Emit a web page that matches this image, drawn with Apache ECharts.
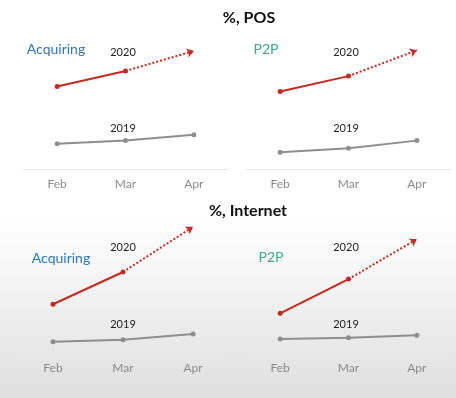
<!DOCTYPE html>
<html>
<head>
    <meta charset="utf-8">
    <title>%, POS / %, Internet</title>
    <script src="https://cdn.jsdelivr.net/npm/echarts@6/dist/echarts.min.js"></script>
    <style>
        * {
            margin: 0;
            padding: 0
        }

        html, body {
            width: 100%;
            height: 100%;
        }

        #main {
            width: 456px;
            height: 398px;
        }
    </style>
</head>
<body>
<div id="main"></div>
<script type="text/javascript">
    // 月份
    var months = ['Feb', 'Mar', 'Apr'];
    // POS（Apr 为预测值，用虚线箭头表示）
    var posAcq2020 = [64, 76, 91.5];
    var posAcq2019 = [19.5, 22, 26.5];
    var posP2p2020 = [60, 72, 92];
    var posP2p2019 = [13, 16, 22];
    // Internet
    var netAcq2020 = [37, 62, 97];
    var netAcq2019 = [8, 9.5, 14];
    var netP2p2020 = [30, 56.5, 87.5];
    var netP2p2019 = [10, 11, 13];

    var panels = [
        {grid: {left: 23, top: 40, width: 205, height: 129}, y2020: posAcq2020, y2019: posAcq2019, margin: 9},
        {grid: {left: 246, top: 40, width: 205, height: 129}, y2020: posP2p2020, y2019: posP2p2019, margin: 9},
        {grid: {left: 18, top: 223, width: 210, height: 129}, y2020: netAcq2020, y2019: netAcq2019, margin: 10},
        {grid: {left: 246, top: 223, width: 205, height: 129}, y2020: netP2p2020, y2019: netP2p2019, margin: 10}
    ];

    var red = '#c42a1f';
    var grey = '#8e8e8e';
    var font = 'Lato, "Open Sans", sans-serif';

    var grids = [], xAxes = [], yAxes = [], series = [];
    panels.forEach(function (p, i) {
        grids.push(p.grid);
        xAxes.push({
            type: 'category',
            gridIndex: i,
            data: months,
            axisLine: {lineStyle: {color: '#e6e6e6', width: 1}},
            axisTick: {show: false},
            axisLabel: {color: '#8a8a8a', fontSize: 12, fontFamily: font, margin: p.margin}
        });
        yAxes.push({type: 'value', gridIndex: i, min: 0, max: 100, show: false, splitLine: {show: false}});
        series.push({
            type: 'line',
            xAxisIndex: i,
            yAxisIndex: i,
            data: p.y2019,
            symbol: 'circle',
            symbolSize: 5,
            itemStyle: {color: grey},
            lineStyle: {color: grey, width: 2},
            animation: false
        });
        series.push({
            type: 'line',
            xAxisIndex: i,
            yAxisIndex: i,
            data: [p.y2020[0], p.y2020[1], '-'],
            symbol: 'circle',
            symbolSize: 5,
            itemStyle: {color: red},
            lineStyle: {color: red, width: 2},
            animation: false,
            markLine: {
                silent: true,
                animation: false,
                symbol: ['none', 'arrow'],
                symbolSize: 7,
                label: {show: false},
                lineStyle: {color: red, width: 2, type: [2, 2]},
                data: [[{coord: ['Mar', p.y2020[1]]}, {coord: ['Apr', p.y2020[2]]}]]
            }
        });
    });

    function txt(text, x, y, size, color, weight) {
        return {
            type: 'text', x: x, y: y, silent: true,
            style: {
                text: text, fill: color, fontSize: size, fontWeight: weight || 'normal',
                fontFamily: font, textAlign: 'center', textVerticalAlign: 'middle'
            }
        };
    }

    var myChart = echarts.init(document.getElementById('main'));
    myChart.setOption({
        backgroundColor: {
            type: 'linear', x: 0, y: 0, x2: 0, y2: 1,
            colorStops: [
                {offset: 0, color: '#ffffff'},
                {offset: 0.55, color: '#ffffff'},
                {offset: 0.75, color: '#f1f1f1'},
                {offset: 1, color: '#dfdfdf'}
            ]
        },
        grid: grids,
        xAxis: xAxes,
        yAxis: yAxes,
        series: series,
        graphic: [
            txt('%, POS', 249, 18, 16, '#111111', 'bold'),
            txt('%, Internet', 248, 211, 16, '#111111', 'bold'),
            txt('Acquiring', 56, 49, 14, '#2e75b6'),
            txt('P2P', 266, 49, 14, '#3aaa80'),
            txt('Acquiring', 61, 258, 14, '#2e75b6'),
            txt('P2P', 271, 257, 14, '#3aaa80'),
            txt('2020', 123, 52, 11, '#222222'),
            txt('2020', 346, 52, 11, '#222222'),
            txt('2020', 123, 247, 11, '#222222'),
            txt('2020', 346, 247, 11, '#222222'),
            txt('2019', 123, 128, 11, '#222222'),
            txt('2019', 346, 128, 11, '#222222'),
            txt('2019', 123, 324, 11, '#222222'),
            txt('2019', 346, 324, 11, '#222222')
        ]
    });
</script>
</body>
</html>
